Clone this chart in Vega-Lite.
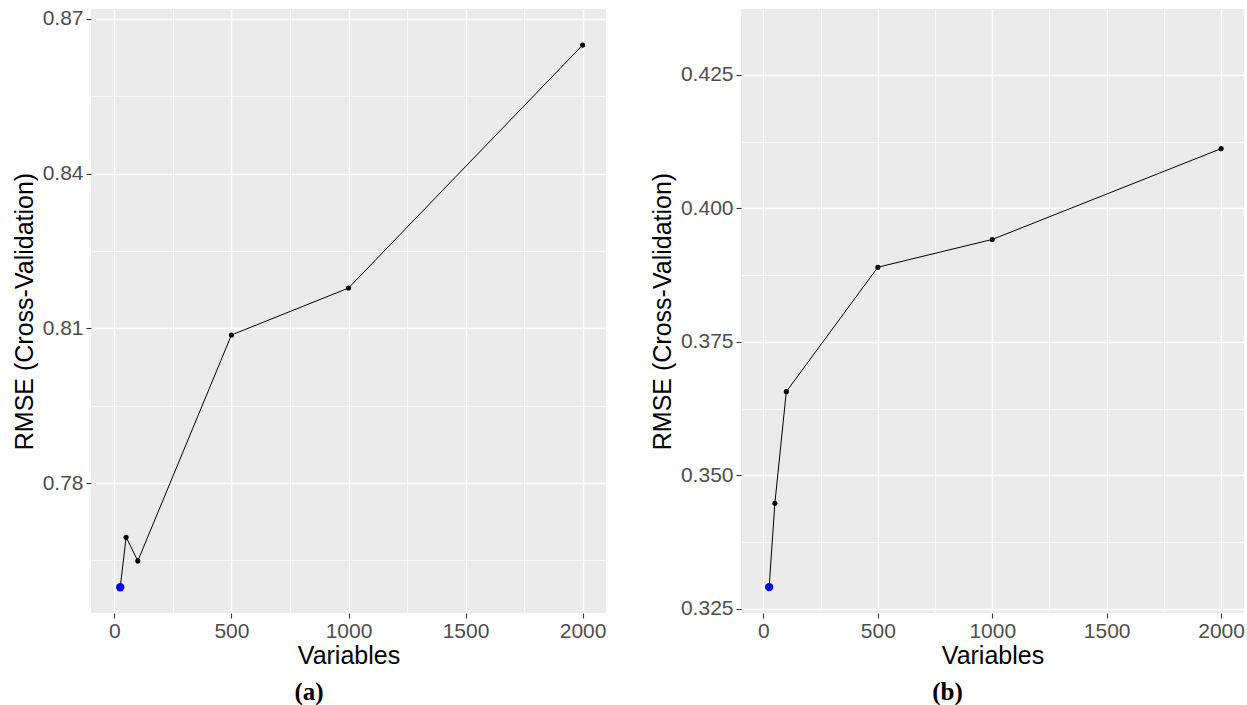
{
  "$schema": "https://vega.github.io/schema/vega-lite/v6.json",
  "background": "white",
  "padding": {"left": 12, "top": 7, "right": 0, "bottom": 0},
  "spacing": 44,
  "datasets": {
    "a": [
      {"variables": 25, "rmse": 0.7598, "best": true},
      {"variables": 50, "rmse": 0.7695, "best": false},
      {"variables": 100, "rmse": 0.7649, "best": false},
      {"variables": 500, "rmse": 0.8087, "best": false},
      {"variables": 1000, "rmse": 0.8178, "best": false},
      {"variables": 2000, "rmse": 0.8649, "best": false}
    ],
    "b": [
      {"variables": 25, "rmse": 0.3291, "best": true},
      {"variables": 50, "rmse": 0.3448, "best": false},
      {"variables": 100, "rmse": 0.3657, "best": false},
      {"variables": 500, "rmse": 0.3890, "best": false},
      {"variables": 1000, "rmse": 0.3942, "best": false},
      {"variables": 2000, "rmse": 0.4112, "best": false}
    ]
  },
  "hconcat": [
    {
      "width": 515,
      "height": 604,
      "data": {"name": "a"},
      "title": {"text": "(a)", "orient": "bottom", "anchor": "middle", "frame": "bounds", "font": "Liberation Serif", "fontSize": 25, "fontWeight": "bold", "color": "black", "offset": 12},
      "layer": [
        {
          "mark": {"type": "line", "color": "black", "strokeWidth": 1},
          "encoding": {
            "x": {"field": "variables", "type": "quantitative", "scale": {"domain": [-100, 2100], "nice": false, "zero": false},
              "axis": {"orient": "top", "values": [250, 750, 1250, 1750], "grid": true, "gridColor": "white", "gridWidth": 0.7, "labels": false, "ticks": false, "domain": false, "title": null}},
            "y": {"field": "rmse", "type": "quantitative", "scale": {"domain": [0.7548, 0.8719], "nice": false, "zero": false},
              "axis": {"orient": "right", "values": [0.765, 0.795, 0.825, 0.855], "grid": true, "gridColor": "white", "gridWidth": 0.7, "labels": false, "ticks": false, "domain": false, "title": null}}
          }
        },
        {
          "mark": {"type": "point", "filled": true, "color": "black", "size": 26, "opacity": 1},
          "encoding": {
            "x": {"field": "variables", "type": "quantitative",
              "axis": {"orient": "bottom", "values": [0, 500, 1000, 1500, 2000], "format": "d", "grid": true, "gridColor": "white", "gridWidth": 1.4, "domain": false, "tickColor": "#333333", "tickSize": 5, "tickWidth": 1.1, "labelFont": "Liberation Sans", "labelFontSize": 21, "labelColor": "#4D4D4D", "labelPadding": 2, "labelFlush": false, "labelOverlap": false, "title": "Variables", "titleFont": "Liberation Sans", "titleFontSize": 25, "titleFontWeight": "normal", "titleColor": "black", "titlePadding": 2}},
            "y": {"field": "rmse", "type": "quantitative",
              "axis": {"orient": "left", "values": [0.78, 0.81, 0.84, 0.87], "format": ".2f", "grid": true, "gridColor": "white", "gridWidth": 1.4, "domain": false, "tickColor": "#333333", "tickSize": 5, "tickWidth": 1.1, "labelFont": "Liberation Sans", "labelFontSize": 21, "labelColor": "#4D4D4D", "labelPadding": 3, "labelOverlap": false, "title": "RMSE (Cross-Validation)", "titleFont": "Liberation Sans", "titleFontSize": 25, "titleFontWeight": "normal", "titleColor": "black", "titlePadding": 5}}
          }
        },
        {
          "transform": [{"filter": "datum.best"}],
          "mark": {"type": "point", "filled": true, "color": "#0000FF", "size": 70, "opacity": 1},
          "encoding": {
            "x": {"field": "variables", "type": "quantitative", "axis": null},
            "y": {"field": "rmse", "type": "quantitative", "axis": null}
          }
        }
      ],
      "resolve": {"axis": {"x": "independent", "y": "independent"}}
    },
    {
      "width": 503,
      "height": 604,
      "data": {"name": "b"},
      "title": {"text": "(b)", "orient": "bottom", "anchor": "middle", "frame": "bounds", "font": "Liberation Serif", "fontSize": 25, "fontWeight": "bold", "color": "black", "offset": 12},
      "layer": [
        {
          "mark": {"type": "line", "color": "black", "strokeWidth": 1},
          "encoding": {
            "x": {"field": "variables", "type": "quantitative", "scale": {"domain": [-98, 2100], "nice": false, "zero": false},
              "axis": {"orient": "top", "values": [250, 750, 1250, 1750], "grid": true, "gridColor": "white", "gridWidth": 0.7, "labels": false, "ticks": false, "domain": false, "title": null}},
            "y": {"field": "rmse", "type": "quantitative", "scale": {"domain": [0.32425, 0.43735], "nice": false, "zero": false},
              "axis": {"orient": "right", "values": [0.3375, 0.3625, 0.3875, 0.4125], "grid": true, "gridColor": "white", "gridWidth": 0.7, "labels": false, "ticks": false, "domain": false, "title": null}}
          }
        },
        {
          "mark": {"type": "point", "filled": true, "color": "black", "size": 26, "opacity": 1},
          "encoding": {
            "x": {"field": "variables", "type": "quantitative",
              "axis": {"orient": "bottom", "values": [0, 500, 1000, 1500, 2000], "format": "d", "grid": true, "gridColor": "white", "gridWidth": 1.4, "domain": false, "tickColor": "#333333", "tickSize": 5, "tickWidth": 1.1, "labelFont": "Liberation Sans", "labelFontSize": 21, "labelColor": "#4D4D4D", "labelPadding": 2, "labelFlush": false, "labelOverlap": false, "title": "Variables", "titleFont": "Liberation Sans", "titleFontSize": 25, "titleFontWeight": "normal", "titleColor": "black", "titlePadding": 2}},
            "y": {"field": "rmse", "type": "quantitative",
              "axis": {"orient": "left", "values": [0.325, 0.35, 0.375, 0.4, 0.425], "format": ".3f", "grid": true, "gridColor": "white", "gridWidth": 1.4, "domain": false, "tickColor": "#333333", "tickSize": 5, "tickWidth": 1.1, "labelFont": "Liberation Sans", "labelFontSize": 21, "labelColor": "#4D4D4D", "labelPadding": 3, "labelOverlap": false, "title": "RMSE (Cross-Validation)", "titleFont": "Liberation Sans", "titleFontSize": 25, "titleFontWeight": "normal", "titleColor": "black", "titlePadding": 5}}
          }
        },
        {
          "transform": [{"filter": "datum.best"}],
          "mark": {"type": "point", "filled": true, "color": "#0000FF", "size": 70, "opacity": 1},
          "encoding": {
            "x": {"field": "variables", "type": "quantitative", "axis": null},
            "y": {"field": "rmse", "type": "quantitative", "axis": null}
          }
        }
      ],
      "resolve": {"axis": {"x": "independent", "y": "independent"}}
    }
  ],
  "config": {
    "view": {"fill": "#EBEBEB", "stroke": null}
  }
}
